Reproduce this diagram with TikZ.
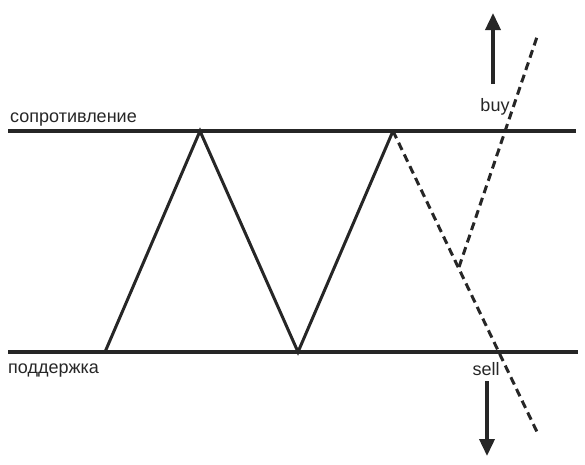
\documentclass[tikz,border=0pt]{standalone}
\usepackage{fontspec}
\setmainfont{Liberation Sans}
\usetikzlibrary{arrows.meta}
\begin{document}
\begin{tikzpicture}[x=1pt,y=-1pt,
  lvl/.style={line width=3.2pt,draw=black!85},
  zig/.style={line width=3pt,draw=black!85},
  dsh/.style={line width=3pt,draw=black!85,dash pattern=on 8pt off 5pt},
  arr/.style={line width=3.6pt,draw=black!85,-{Triangle[length=17pt,width=15pt]}},
  lbl/.style={font=\fontsize{18}{21}\selectfont,text=black!85,inner sep=0pt}]
\useasboundingbox (0,0) rectangle (585,464);
% levels
\coordinate (r0) at (8,131); \coordinate (r1) at (576,131);
\coordinate (s0) at (8,352); \coordinate (s1) at (578,352);
\draw[lvl] (r0) -- (r1);
\draw[lvl] (s0) -- (s1);
% zigzag
\coordinate (a) at (105,352);
\coordinate (b) at (200,131);
\coordinate (c) at (298,352);
\coordinate (d) at (393,131);
\draw[zig,line join=miter] (a) -- (b) -- (c) -- (d);
% dashed
\coordinate (e) at (538,434);
\coordinate (f) at (459,267);
\coordinate (g) at (538,34);
\draw[dsh] (d) -- (e);
\draw[dsh] (f) -- (g);
% arrows
\coordinate (u0) at (493,84); \coordinate (u1) at (493,13);
\coordinate (w0) at (487,381); \coordinate (w1) at (487,456);
\draw[arr] (u0) -- (u1);
\draw[arr] (w0) -- (w1);
% labels
\node[lbl,anchor=base west] (tr) at (10,122) {сопротивление};
\node[lbl,anchor=base west] (ts) at (8,373) {поддержка};
\node[lbl,anchor=base] (tb) at (495,111) {buy};
\node[lbl,anchor=base] (tsl) at (486,375) {sell};
\end{tikzpicture}
\end{document}
